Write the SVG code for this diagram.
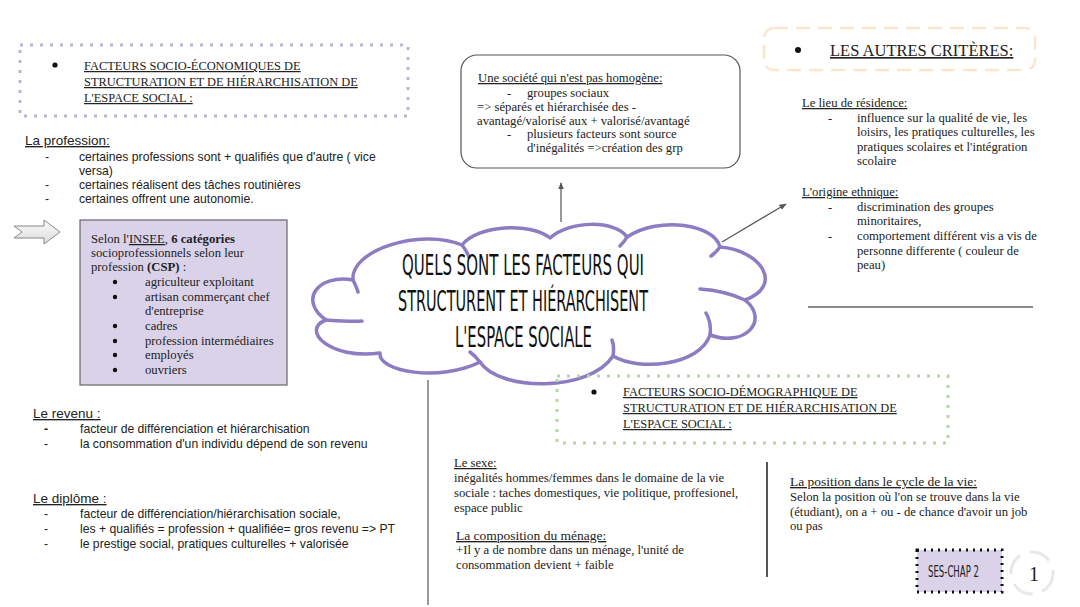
<svg xmlns="http://www.w3.org/2000/svg" width="1080" height="607" viewBox="0 0 1080 607">
<defs>
<style>
.sans{font-family:"Liberation Sans",Arial,sans-serif;font-size:12.2px;fill:#222}
.sh{font-family:"Liberation Sans",Arial,sans-serif;font-size:13.5px;fill:#222;text-decoration:underline}
.serif{font-family:"Liberation Serif","Times New Roman",serif;font-size:12.7px;fill:#222}
.sb{font-family:"Liberation Serif","Times New Roman",serif;font-size:13.5px;fill:#222;text-decoration:underline}
.head{font-family:"Liberation Serif","Times New Roman",serif;font-size:12.4px;fill:#222;text-decoration:underline}
.big{font-family:"Liberation Serif","Times New Roman",serif;font-size:16.5px;fill:#222;text-decoration:underline}
.u{text-decoration:underline}
.title{font-family:"DejaVu Sans Condensed","DejaVu Sans",sans-serif;font-size:29px;fill:#111}
.conn{stroke:#555;stroke-width:1.2;fill:none}
</style>
<marker id="ah" viewBox="0 0 10 10" refX="9" refY="5" markerWidth="6" markerHeight="6" orient="auto">
<path d="M0,1 L10,5 L0,9 Z" fill="#555"/>
</marker>
<linearGradient id="ag" x1="0" y1="0" x2="0" y2="1">
<stop offset="0" stop-color="#fafafa"/><stop offset="1" stop-color="#dcdcdc"/>
</linearGradient>
</defs>
<rect width="1080" height="607" fill="#fff"/>

<g id="connectors">
<line class="conn" x1="561" y1="222" x2="561" y2="183" marker-end="url(#ah)"/>
<line class="conn" x1="722" y1="242" x2="786" y2="204" marker-end="url(#ah)"/>
<line x1="428" y1="380" x2="428" y2="605" stroke="#555" stroke-width="1.2"/>
<line x1="767" y1="462" x2="767" y2="577" stroke="#555" stroke-width="2"/>
<line x1="808" y1="307" x2="1033" y2="307" stroke="#666" stroke-width="1.5"/>
</g>

<g id="socio-eco-header">
<rect x="20" y="45" width="388" height="71" fill="none" stroke="#bdb5d5" stroke-width="3" stroke-dasharray="3 7"/>
<circle cx="55" cy="65" r="2.6" fill="#111"/>
<text class="head" x="84" y="70">FACTEURS SOCIO-ÉCONOMIQUES DE</text>
<text class="head" x="84" y="86">STRUCTURATION ET DE HIÉRARCHISATION DE</text>
<text class="head" x="84" y="102">L'ESPACE SOCIAL :</text>
</g>

<g id="profession">
<text class="sh" x="25" y="145">La profession:</text>
<text class="sans" x="45" y="161">-</text>
<text class="sans" x="79" y="161">certaines professions sont + qualifiés que d'autre ( vice</text>
<text class="sans" x="79" y="175">versa)</text>
<text class="sans" x="45" y="189">-</text>
<text class="sans" x="79" y="189">certaines réalisent des tâches routinières</text>
<text class="sans" x="45" y="203">-</text>
<text class="sans" x="79" y="203">certaines offrent une autonomie.</text>
</g>

<g id="block-arrow">
<polygon points="14,226 44,226 44,220 60,232 44,244 44,238 14,238 22,232" fill="url(#ag)" stroke="#888" stroke-width="1"/>
</g>

<g id="insee">
<rect x="80" y="220" width="207" height="165" fill="#d9d2e9" stroke="#666" stroke-width="1.2"/>
<text class="serif" x="91" y="243">Selon l'<tspan class="u">INSEE</tspan>, <tspan font-weight="bold">6 catégories</tspan></text>
<text class="serif" x="91" y="257">socioprofessionnels selon leur</text>
<text class="serif" x="91" y="271">profession <tspan font-weight="bold">(CSP)</tspan> :</text>
<g fill="#111">
<circle cx="115" cy="282" r="2.2"/><circle cx="115" cy="297" r="2.2"/><circle cx="115" cy="326" r="2.2"/>
<circle cx="115" cy="341" r="2.2"/><circle cx="115" cy="355" r="2.2"/><circle cx="115" cy="370" r="2.2"/>
</g>
<text class="serif" x="145" y="286">agriculteur exploitant</text>
<text class="serif" x="145" y="301">artisan commerçant chef</text>
<text class="serif" x="145" y="315">d'entreprise</text>
<text class="serif" x="145" y="330">cadres</text>
<text class="serif" x="145" y="345">profession intermédiaires</text>
<text class="serif" x="145" y="359">employés</text>
<text class="serif" x="145" y="374">ouvriers</text>
</g>

<g id="revenu">
<text class="sh" x="33" y="418">Le revenu :</text>
<text class="sans" x="44" y="433" font-weight="bold">-</text>
<text class="sans" x="80" y="433">facteur de différenciation et hiérarchisation</text>
<text class="sans" x="44" y="448">-</text>
<text class="sans" x="80" y="448">la consommation d'un individu dépend de son revenu</text>
</g>

<g id="diplome">
<text class="sh" x="33" y="503">Le diplôme :</text>
<text class="sans" x="44" y="518">-</text>
<text class="sans" x="80" y="518">facteur de différenciation/hiérarchisation sociale,</text>
<text class="sans" x="44" y="533">-</text>
<text class="sans" x="80" y="533">les + qualifiés = profession + qualifiée= gros revenu =&gt; PT</text>
<text class="sans" x="44" y="548">-</text>
<text class="sans" x="80" y="548">le prestige social, pratiques culturelles + valorisée</text>
</g>

<g id="societe">
<rect x="461" y="55" width="279" height="113" rx="16" fill="#fff" stroke="#555" stroke-width="1.2"/>
<text class="serif u" x="478" y="82">Une société qui n'est pas homogène:</text>
<text class="serif" x="507" y="97">-</text>
<text class="serif" x="527" y="97">groupes sociaux</text>
<text class="serif" x="477" y="111">=&gt; séparés et hiérarchisée des -</text>
<text class="serif" x="477" y="125">avantagé/valorisé aux + valorisé/avantagé</text>
<text class="serif" x="507" y="138">-</text>
<text class="serif" x="527" y="138">plusieurs facteurs sont source</text>
<text class="serif" x="527" y="152">d'inégalités =&gt;création des grp</text>
</g>

<g id="cloud">
<path d="M353 280 C350 250 420 228 462 245 C478 225 530 222 550 238 C570 220 615 220 627 237 C660 215 715 225 720 247 C760 250 785 285 745 300 C770 320 745 348 710 335 C700 365 640 372 613 356 C590 392 500 392 480 362 C440 382 378 372 380 353 C330 360 300 330 326 320 C298 300 318 274 353 280 Z" fill="#fff" stroke="#8e7cc3" stroke-width="3.5" stroke-linejoin="round"/>
<path d="M353 280 C355 284 357 288 358 292 M462 245 C466 250 468 254 469 257 M627 237 C625 241 622 244 620 246 M720 247 C717 251 714 254 711 256 M745 300 C730 293 715 290 700 289 M710 335 C711 328 710 320 706 313 M613 356 C614 350 614 345 612 340 M480 362 C477 358 474 355 470 352 M326 320 C340 321 352 322 362 321" fill="none" stroke="#8e7cc3" stroke-width="3.5" stroke-linecap="round"/>
<text class="title" x="402" y="275" textLength="242" lengthAdjust="spacingAndGlyphs">QUELS SONT LES FACTEURS QUI</text>
<text class="title" x="398" y="311" textLength="250" lengthAdjust="spacingAndGlyphs">STRUCTURENT ET HIÉRARCHISENT</text>
<text class="title" x="455" y="347" textLength="137" lengthAdjust="spacingAndGlyphs">L'ESPACE SOCIALE</text>
</g>

<g id="autres-criteres">
<rect x="764" y="28" width="271" height="42" rx="10" fill="none" stroke="#fce5cd" stroke-width="2.5" stroke-dasharray="14 8"/>
<circle cx="798" cy="50" r="3" fill="#111"/>
<text class="big" x="830" y="56">LES AUTRES CRITÈRES:</text>
</g>

<g id="residence">
<text class="serif u" x="802" y="107">Le lieu de résidence:</text>
<text class="serif" x="828" y="122">-</text>
<text class="serif" x="857" y="122">influence sur la qualité de vie, les</text>
<text class="serif" x="857" y="136">loisirs, les pratiques culturelles, les</text>
<text class="serif" x="857" y="151">pratiques scolaires et l'intégration</text>
<text class="serif" x="857" y="165">scolaire</text>
</g>

<g id="origine">
<text class="serif u" x="802" y="196">L'origine ethnique:</text>
<text class="serif" x="828" y="211">-</text>
<text class="serif" x="857" y="211">discrimination des groupes</text>
<text class="serif" x="857" y="225">minoritaires,</text>
<text class="serif" x="828" y="240">-</text>
<text class="serif" x="857" y="240">comportement différent vis a vis de</text>
<text class="serif" x="857" y="255">personne differente ( couleur de</text>
<text class="serif" x="857" y="269">peau)</text>
</g>

<g id="socio-demo-header">
<rect x="557" y="376" width="391" height="67" fill="none" stroke="#b6d7a8" stroke-width="3" stroke-dasharray="3 7"/>
<circle cx="594" cy="392" r="2.6" fill="#111"/>
<text class="head" x="623" y="396">FACTEURS SOCIO-DÉMOGRAPHIQUE DE</text>
<text class="head" x="623" y="412">STRUCTURATION ET DE HIÉRARCHISATION DE</text>
<text class="head" x="623" y="428">L'ESPACE SOCIAL :</text>
</g>

<g id="sexe">
<text class="serif u" x="454" y="467">Le sexe:</text>
<text class="serif" x="454" y="482">inégalités hommes/femmes dans le domaine de la vie</text>
<text class="serif" x="454" y="497">sociale : taches domestiques, vie politique, proffesionel,</text>
<text class="serif" x="454" y="512">espace public</text>
</g>

<g id="menage">
<text class="sb" x="456" y="540">La composition du ménage:</text>
<text class="serif" x="456" y="554">+Il y a de nombre dans un ménage, l'unité de</text>
<text class="serif" x="456" y="569">consommation devient + faible</text>
</g>

<g id="cycle-vie">
<text class="sb" x="790" y="486">La position dans le cycle de la vie:</text>
<text class="serif" x="790" y="501">Selon la position où l'on se trouve dans la vie</text>
<text class="serif" x="790" y="516">(étudiant), on a + ou - de chance d'avoir un job</text>
<text class="serif" x="790" y="530">ou pas</text>
</g>

<g id="chapter-tag">
<rect x="917" y="550" width="85" height="42" fill="#d9d2e9" stroke="#111" stroke-width="3" stroke-dasharray="2 5"/>
<text x="928" y="577" font-family="DejaVu Sans Condensed, DejaVu Sans, sans-serif" font-size="15" fill="#222" textLength="51" lengthAdjust="spacingAndGlyphs">SES-CHAP 2</text>
</g>

<g id="page-number">
<circle cx="1032" cy="573" r="21" fill="none" stroke="#e8e8e8" stroke-width="3" stroke-dasharray="22 10"/>
<text x="1029" y="581" font-family="Liberation Serif, serif" font-size="20" fill="#222">1</text>
</g>
</svg>
